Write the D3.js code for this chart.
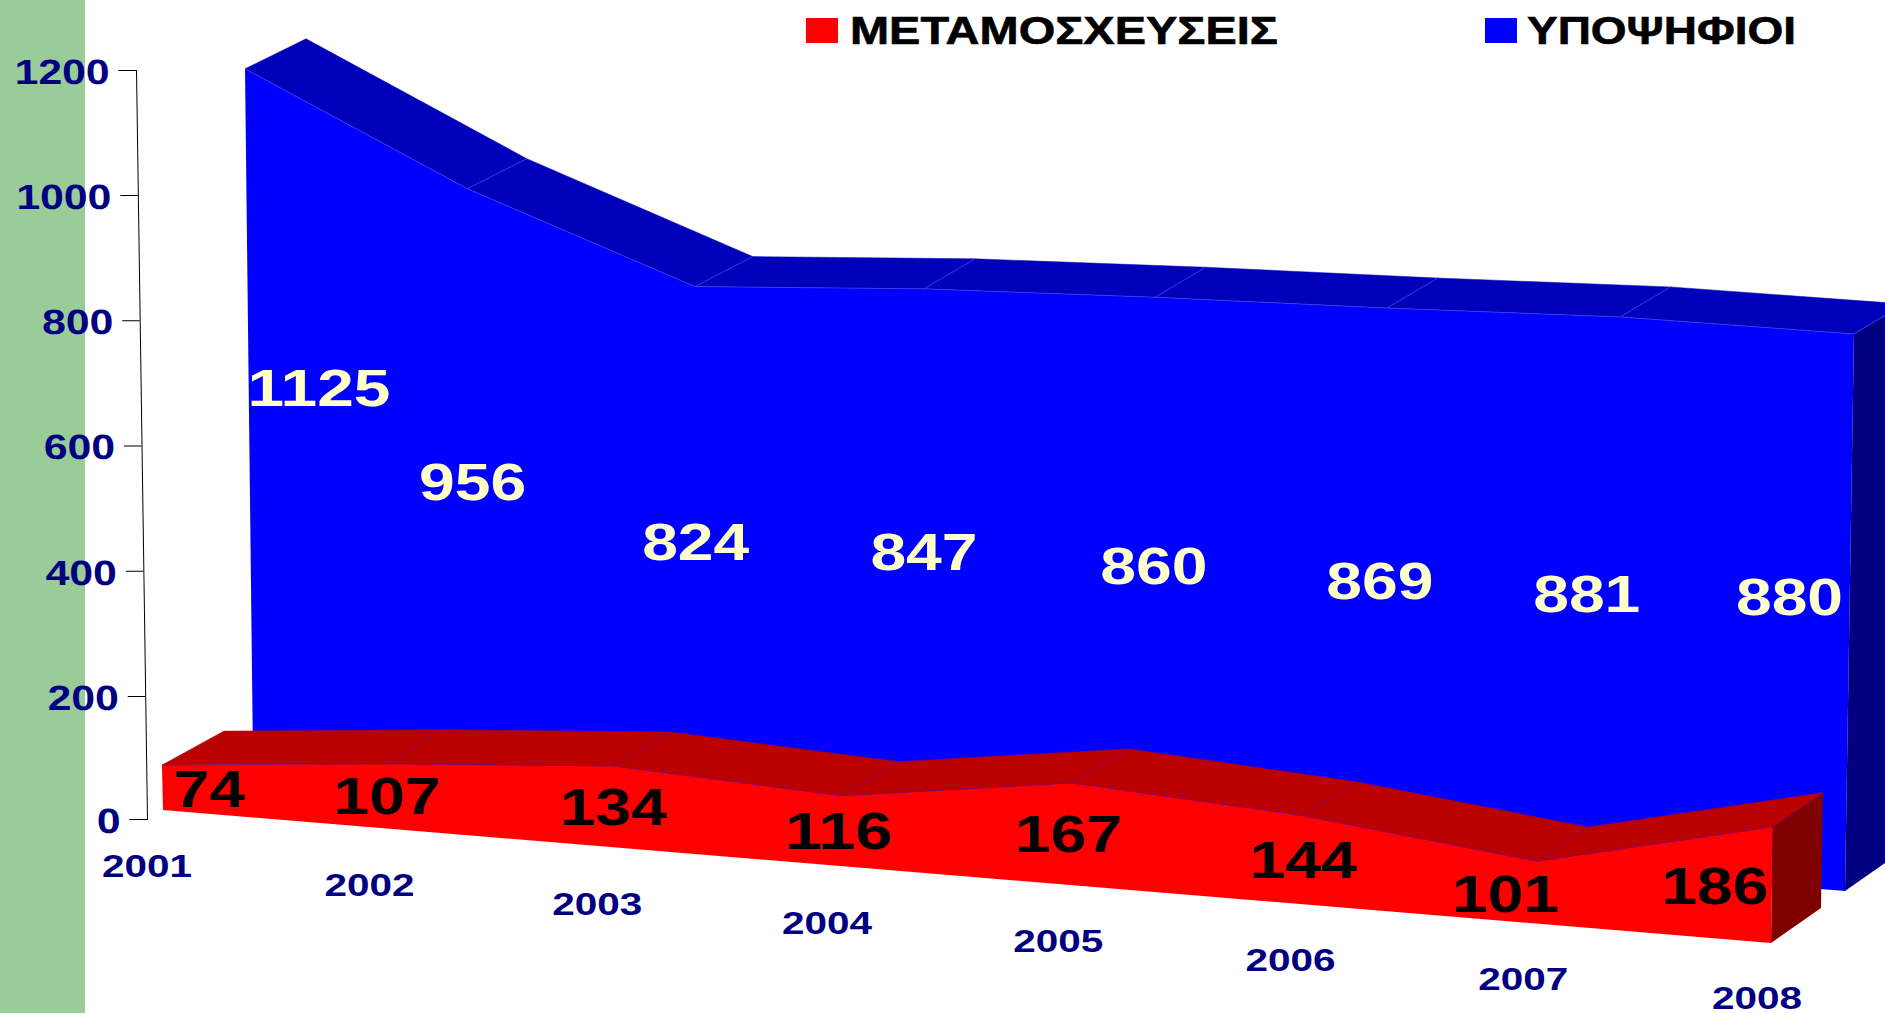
<!DOCTYPE html>
<html>
<head>
<meta charset="utf-8">
<script src="https://cdn.jsdelivr.net/npm/d3@7"></script>
<style>
  html, body { margin: 0; padding: 0; background: #fff; overflow: hidden; }
  svg { display: block; }
  text { font-family: "Liberation Sans", Arial, sans-serif; font-weight: bold; }
</style>
</head>
<body>
<div id="chart-area"></div>
<script>
// Data
var years = ["2001", "2002", "2003", "2004", "2005", "2006", "2007", "2008"];
var candidates = [1125, 956, 824, 847, 860, 869, 881, 880];
var transplants = [74, 107, 134, 116, 167, 144, 101, 186];
var yTicks = [0, 200, 400, 600, 800, 1000, 1200];
var legendLabels = ["ΜΕΤΑΜΟΣΧΕΥΣΕΙΣ", "ΥΠΟΨΗΦΙΟΙ"];

var width = 1885, height = 1013;

var svg = d3.select("#chart-area").append("svg")
    .attr("width", width)
    .attr("height", height);

var index = d3.range(years.length);
var last = years.length - 1;

// Green strip on the left
svg.append("rect")
    .attr("width", 85)
    .attr("height", height)
    .attr("fill", "#99cc99");

// Text is wider than the font, so stretch it to a fixed advance per character
function stretched(sel, perChar) {
    sel.attr("textLength", function() { return this.textContent.length * perChar; })
        .attr("lengthAdjust", "spacingAndGlyphs");
}

// The fake perspective: each wall has its own scales along the category index
function makeWall(cfg) {
    var baseX = d3.scalePow().exponent(cfg.exponent)
        .domain([cfg.bend, cfg.bend + last]).range(cfg.baseX);
    var baseY = d3.scaleLinear().domain([0, last]).range(cfg.baseY);
    var unit = d3.scaleLinear().domain([0, last]).range(cfg.unit);
    var lean = d3.scaleLinear().domain([0, last]).range(cfg.lean);
    var depthX = d3.scaleLinear().domain(cfg.depthDomain).range(cfg.depthRange);
    return {
        front: function(i, v) {
            return [baseX(i + cfg.bend) + v * lean(i), baseY(i) - v * unit(i)];
        },
        back: function(i, v) {
            var p = this.front(i, v);
            return [p[0] + depthX(i), p[1] + (v > 0 ? cfg.depthTop : cfg.depthBottom)];
        }
    };
}

function drawWall(wall, values, colors) {
    var g = svg.append("g");
    var line = d3.line();

    // Front face
    var outline = index.map(function(i) { return wall.front(i, values[i]); })
        .concat([wall.front(last, 0), wall.front(0, 0)]);
    g.append("path")
        .attr("d", line(outline) + "Z")
        .attr("fill", colors.front);

    // Right end
    g.append("path")
        .attr("d", line([wall.front(last, values[last]), wall.back(last, values[last]),
            wall.back(last, 0), wall.front(last, 0)]) + "Z")
        .attr("fill", colors.side);

    // Top face, one piece per segment
    g.selectAll("path.top")
        .data(index.slice(0, last))
        .enter().append("path")
        .attr("class", "top")
        .attr("d", function(i) {
            return line([wall.front(i, values[i]), wall.front(i + 1, values[i + 1]),
                wall.back(i + 1, values[i + 1]), wall.back(i, values[i])]) + "Z";
        })
        .attr("fill", colors.top)
        .attr("stroke", colors.top)
        .attr("stroke-width", 0.5);

    // Thin lines between the pieces
    g.selectAll("path.seam")
        .data(index.slice(1))
        .enter().append("path")
        .attr("class", "seam")
        .attr("d", function(i) {
            return line([wall.front(i, values[i]), wall.back(i, values[i])]);
        })
        .attr("fill", "none")
        .attr("stroke", colors.seam)
        .attr("stroke-width", 0.6);
    g.append("path")
        .attr("d", line(index.map(function(i) { return wall.front(i, values[i]); })))
        .attr("fill", "none")
        .attr("stroke", colors.seam)
        .attr("stroke-width", 0.6);
}

var blueWall = makeWall({
    exponent: 1.02,
    bend: 0,
    baseX: [253, 1845],
    baseY: [759, 891],
    unit: [0.6135, 0.633],
    lean: [-0.0071, 0.0102],
    depthDomain: [0, 2, 3, 7],
    depthRange: [61, 58, 51, 50],
    depthTop: -30,
    depthBottom: -35
});

var redWall = makeWall({
    exponent: 2,
    bend: 132,
    baseX: [163, 1771],
    baseY: [810, 943],
    unit: [0.607, 0.625],
    lean: [-0.014, 0.0102],
    depthDomain: [0, 1, 4, 5, 7],
    depthRange: [62, 57, 57, 52, 50],
    depthTop: -34,
    depthBottom: -35
});

drawWall(blueWall, candidates, { front: "#0000ff", top: "#0000bb", side: "#000080", seam: "#5050ff" });
drawWall(redWall, transplants, { front: "#ff0000", top: "#bb0000", side: "#800000", seam: "#7a0080" });

// Value axis, slightly tilted like the original
var y = d3.scaleLinear().domain([0, 200, 1000, 1200]).range([749, 626, 125, 0]);
var tilt = Math.atan(11 / 749) * 180 / Math.PI;
var yAxisGroup = svg.append("g")
    .attr("transform", "translate(136,70) skewX(" + tilt + ")")
    .call(d3.axisLeft(y).tickValues(yTicks).tickSize(17.5).tickPadding(9).tickFormat(d3.format("d")));
yAxisGroup.selectAll("text")
    .attr("fill", "#000080")
    .attr("dy", "0.38em")
    .style("font-size", "35px")
    .call(stretched, 23.75);

// Year labels walk down with the floor
var yearX = d3.scalePow().exponent(1.017).domain([0, last]).range([147, 1757]);
var yearY = d3.scaleLinear().domain([0, last]).range([877, 1009]);
svg.selectAll("text.year")
    .data(years)
    .enter().append("text")
    .attr("class", "year")
    .attr("x", function(d, i) { return yearX(i); })
    .attr("y", function(d, i) { return yearY(i); })
    .attr("text-anchor", "middle")
    .attr("fill", "#000080")
    .style("font-size", "32px")
    .text(function(d) { return d; })
    .call(stretched, 22.5);

// Value labels sit halfway up the wall; some were moved by hand in the original
function drawLabels(wall, values, color, nudge) {
    svg.selectAll(null)
        .data(values)
        .enter().append("text")
        .attr("x", function(d, i) { return wall.front(i, d / 2)[0] + (nudge[i] ? nudge[i][0] : 0); })
        .attr("y", function(d, i) { return wall.front(i, d / 2)[1] + 18 + (nudge[i] ? nudge[i][1] : 0); })
        .attr("text-anchor", "middle")
        .attr("fill", color)
        .style("font-size", "52px")
        .text(function(d) { return d; })
        .call(stretched, 35.7);
}

drawLabels(blueWall, candidates, "#ffffcc", { 0: [70, -26], 1: [3, -1], 5: [-5, 0], 6: [-30, -1], 7: [-60, -15] });
drawLabels(redWall, transplants, "#000000", { 0: [47, 1], 3: [-3, 0], 4: [-3, 0], 6: [-31, 1], 7: [-57, 1] });

// Legend
var legendX = [806, 1485];
var legendText = [428, 269];
var legendOffset = [44, 42];
var legendColors = ["#ff0000", "#0000ff"];
var legend = svg.selectAll("g.legend")
    .data(legendLabels)
    .enter().append("g")
    .attr("class", "legend")
    .attr("transform", function(d, i) { return "translate(" + legendX[i] + ",18)"; });
legend.append("rect")
    .attr("width", 32)
    .attr("height", 25)
    .attr("fill", function(d, i) { return legendColors[i]; });
legend.append("text")
    .attr("x", function(d, i) { return legendOffset[i]; })
    .attr("y", 26)
    .attr("fill", "#000")
    .attr("stroke", "#000")
    .attr("stroke-width", 0.6)
    .style("font-size", "39px")
    .attr("textLength", function(d, i) { return legendText[i]; })
    .attr("lengthAdjust", "spacingAndGlyphs")
    .text(function(d) { return d; });
</script>
</body>
</html>
